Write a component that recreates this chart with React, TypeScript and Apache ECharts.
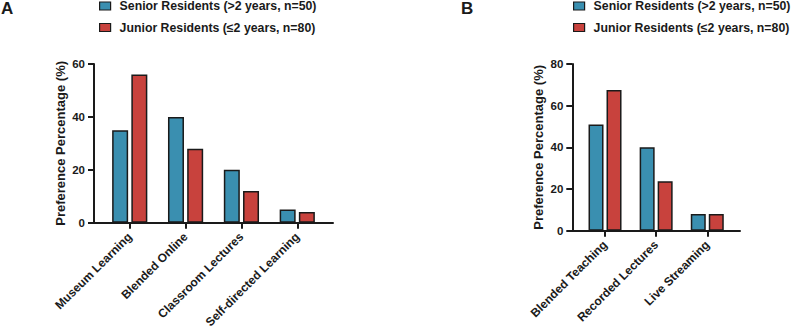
import React, { useEffect, useRef } from "react";
import * as echarts from "echarts";

// Panel A: preferred learning modes
const categoriesA = ["Museum Learning", "Blended Online", "Classroom Lectures", "Self-directed Learning"];
const seniorA = [35, 40, 20, 5];
const juniorA = [56, 28, 12, 4];

// Panel B: preferred teaching formats
const categoriesB = ["Blended Teaching", "Recorded Lectures", "Live Streaming"];
const seniorB = [51, 40, 8];
const juniorB = [67.5, 23.75, 8];

const seriesNames = ["Senior Residents (>2 years, n=50)", "Junior Residents (≤2 years, n=80)"];
const yTicksA = [0, 20, 40, 60];
const yTicksB = [0, 20, 40, 60, 80];

const BLUE = "#3a8fb0";
const RED = "#c8423d";
const INK = "#1a1a1a";
const FONT = "Liberation Sans, Arial, sans-serif";

function makeAxisLine() {
  return { show: true, onZero: false, lineStyle: { color: INK, width: 2 } };
}

function xAxisFor(gridIndex: number, cats: string[]) {
  const idx = cats.map((_, i) => i);
  return {
    type: "value",
    gridIndex,
    min: -0.64,
    max: cats.length - 1 + 0.64,
    splitLine: { show: false },
    axisLine: makeAxisLine(),
    axisTick: { show: true, length: 6, customValues: idx, lineStyle: { color: INK, width: 2 } },
    axisLabel: {
      show: true,
      customValues: idx,
      rotate: 45,
      margin: 12,
      color: INK,
      fontWeight: "bold",
      fontSize: 12,
      fontFamily: FONT,
      formatter: (v: number) => cats[Math.round(v)] ?? "",
    },
  };
}

function yAxisFor(gridIndex: number, ticks: number[]) {
  return {
    type: "value",
    gridIndex,
    min: 0,
    max: ticks[ticks.length - 1],
    interval: 20,
    name: "Preference Percentage (%)",
    nameLocation: "middle",
    nameGap: 27,
    nameTextStyle: { color: INK, fontWeight: "bold", fontSize: 13, fontFamily: FONT },
    splitLine: { show: false },
    axisLine: makeAxisLine(),
    axisTick: { show: true, length: 6, lineStyle: { color: INK, width: 2 } },
    axisLabel: { color: INK, fontWeight: "bold", fontSize: 11.5, fontFamily: FONT, margin: 9 },
  };
}

function barSeries(name: string, values: number[], color: string, axisIndex: number, width: number) {
  return {
    type: "bar",
    name,
    xAxisIndex: axisIndex,
    yAxisIndex: axisIndex,
    barWidth: width,
    barGap: "20%",
    data: values.map((v, i) => [i, v]),
    itemStyle: { color, borderColor: INK, borderWidth: 1.5 },
  };
}

function legendAt(left: number) {
  return {
    orient: "vertical",
    left,
    top: 0,
    padding: 0,
    itemWidth: 11,
    itemHeight: 8,
    itemGap: 9.5,
    icon: "rect",
    data: seriesNames,
    itemStyle: { borderColor: INK, borderWidth: 1.2 },
    textStyle: { color: INK, fontWeight: "bold", fontSize: 12.3, fontFamily: FONT, padding: [0, 0, 0, 4] },
    selectedMode: false,
  };
}

export default function App() {
  const ref = useRef<HTMLDivElement>(null);

  useEffect(() => {
    if (!ref.current) return;
    const chart = echarts.init(ref.current, undefined, { renderer: "svg" });
    chart.setOption({
      animation: false,
      backgroundColor: "#ffffff",
      title: [
        { text: "A", left: 1, top: 0, padding: 0, textStyle: { fontSize: 17, fontWeight: "bold", color: INK, fontFamily: FONT } },
        { text: "B", left: 461, top: 0, padding: 0, textStyle: { fontSize: 17, fontWeight: "bold", color: INK, fontFamily: FONT } },
      ],
      legend: [legendAt(99), legendAt(573)],
      grid: [
        { left: 94, top: 64, width: 239, height: 158.7 },
        { left: 572.3, top: 64, width: 167.7, height: 166.7 },
      ],
      xAxis: [xAxisFor(0, categoriesA), xAxisFor(1, categoriesB)],
      yAxis: [yAxisFor(0, yTicksA), yAxisFor(1, yTicksB)],
      series: [
        barSeries(seriesNames[0], seniorA, BLUE, 0, 16),
        barSeries(seriesNames[1], juniorA, RED, 0, 16),
        barSeries(seriesNames[0], seniorB, BLUE, 1, 15),
        barSeries(seriesNames[1], juniorB, RED, 1, 15),
      ],
    });
    return () => chart.dispose();
  }, []);

  return (
    <div
      ref={ref}
      style={{ position: "fixed", left: 0, top: 0, width: 794, height: 331 }}
    />
  );
}
